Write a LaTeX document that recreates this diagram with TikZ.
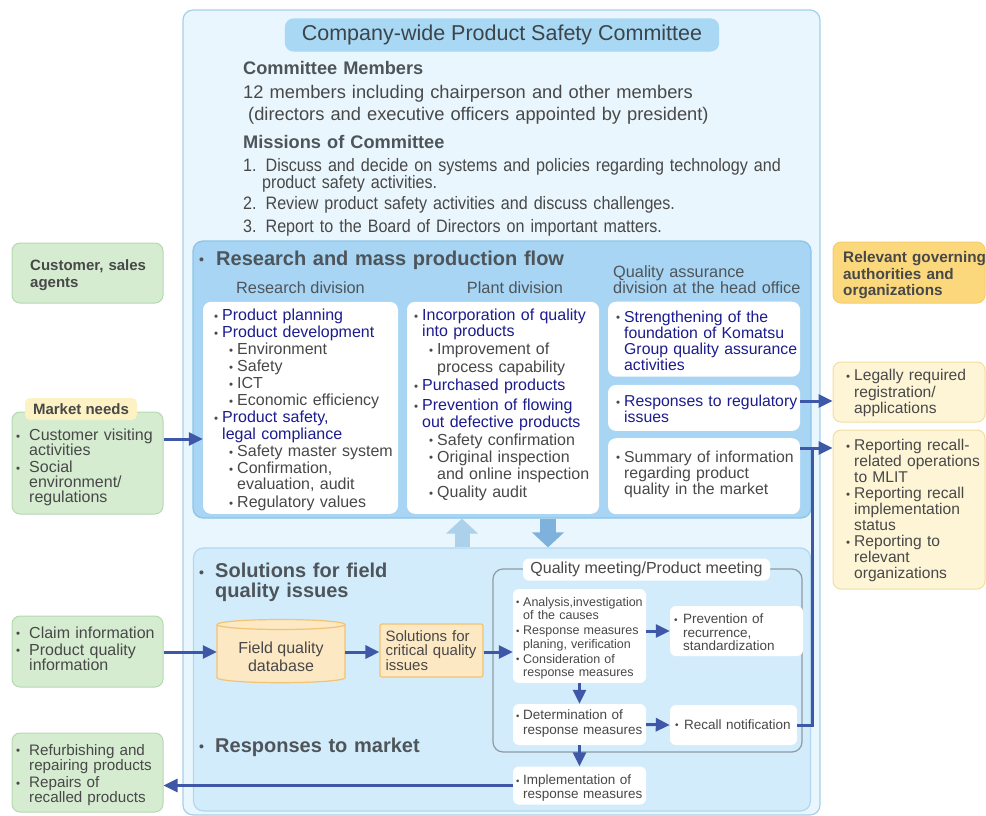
\documentclass[tikz,border=0pt]{standalone}
\usepackage{fontspec}
\setmainfont{Liberation Sans}
\newfontfamily\condfont[FakeStretch=0.895]{Liberation Sans}
\usepackage{xcolor}
\usepackage{tikz}
\usetikzlibrary{arrows.meta}

\definecolor{outerfill}{HTML}{EAF6FD}
\definecolor{outerline}{HTML}{A4D0EB}
\definecolor{titlefill}{HTML}{A9D8F4}
\definecolor{titlegray}{HTML}{3C4449}
\definecolor{massfill}{HTML}{A7D5F3}
\definecolor{massline}{HTML}{8CC4EA}
\definecolor{lowfill}{HTML}{D3ECFB}
\definecolor{lowline}{HTML}{B2D7EE}
\definecolor{navy}{HTML}{1C1C8E}
\definecolor{txtgray}{HTML}{484848}
\definecolor{headgray}{HTML}{4E555A}
\definecolor{arrowblue}{HTML}{3E57A7}
\definecolor{greenfill}{HTML}{D5ECD1}
\definecolor{greenline}{HTML}{B5D9AF}
\definecolor{govfill}{HTML}{FBD87C}
\definecolor{govline}{HTML}{F4CD6C}
\definecolor{paleyellow}{HTML}{FDF5D6}
\definecolor{paleline}{HTML}{F1DE9F}
\definecolor{tabfill}{HTML}{FCF2C4}
\definecolor{dbfill}{HTML}{FDE8C4}
\definecolor{dbline}{HTML}{F2C374}
\definecolor{meetline}{HTML}{8E9BA4}
\definecolor{uparrow}{HTML}{ABD1EB}
\definecolor{downarrow}{HTML}{7EB1DC}

\newcommand{\fsz}[2]{\fontsize{#1}{#2}\selectfont}
\newcommand{\blu}[1]{\textcolor{navy}{#1}}
% bullets and hanging indents
\newcommand{\bul}[2]{\raisebox{#2}{\fontsize{#1}{#1}\selectfont •}}
\newcommand{\bdot}{\makebox[8pt][l]{\bul{11.5}{0.3pt}}}
\newcommand{\bsub}{\hspace*{15pt}\makebox[8pt][l]{\bul{11.5}{0.3pt}}}
\newcommand{\bcont}{\hspace*{8pt}}
\newcommand{\bsubc}{\hspace*{23pt}}
\newcommand{\gdot}{\makebox[14pt][l]{\hspace*{1pt}\bul{11.5}{0.3pt}}}
\newcommand{\gcont}{\hspace*{14pt}}
\newcommand{\mdot}{\makebox[7pt][l]{\bul{9.5}{0.2pt}}}
\newcommand{\mcont}{\hspace*{7pt}}
\newcommand{\ndot}{\makebox[10pt][l]{\hspace*{1pt}\bul{10}{0.2pt}}}
\newcommand{\ncont}{\hspace*{10pt}}
\newcommand{\hdot}{\bul{14}{0.5pt}}

\begin{document}
\begin{tikzpicture}
[
x=1pt, y=-1pt,
panel/.style={rectangle, rounded corners=10pt, line width=1.2pt, inner sep=0pt},
whitebox/.style={rectangle, rounded corners=8pt, fill=white, inner sep=0pt},
meetbox/.style={rectangle, rounded corners=6pt, fill=white, inner sep=0pt},
greenbox/.style={rectangle, rounded corners=8pt, fill=greenfill, draw=greenline, line width=1pt, inner sep=0pt},
yellowbox/.style={rectangle, rounded corners=8pt, fill=paleyellow, draw=paleline, line width=1pt, inner sep=0pt},
txt/.style={anchor=base west, inner sep=0pt, align=left, text width=#1, text=txtgray, font=\fsz{16}{17}},
txt/.default=200pt,
head/.style={anchor=base west, inner sep=0pt, align=left, text width=#1, text=headgray, font=\bfseries\fsz{20}{20}},
head/.default=400pt,
flow/.style={draw=arrowblue, line width=3pt, -{Triangle[length=14pt,width=13pt]}},
link/.style={draw=arrowblue, line width=3pt}
]
\useasboundingbox (0,0) rectangle (986,815);

%Panels
\node[panel, fill=outerfill, draw=outerline, minimum width=637pt, minimum height=805pt] (committee) at (501.5,412.5) {};
\node[panel, rounded corners=8pt, fill=titlefill, draw=titlefill, minimum width=433pt, minimum height=32pt, text=titlegray, font=\fsz{21.5}{24}] (title) at (502,35) {Company-wide Product Safety Committee};
\node[panel, fill=massfill, draw=massline, minimum width=618pt, minimum height=277pt] (mass) at (502,379.5) {};
\node[panel, fill=lowfill, draw=lowline, minimum width=617pt, minimum height=263pt] (field) at (502,679.5) {};

%Boxes
\node[whitebox, minimum width=195pt, minimum height=212pt] (resbox) at (300.5,407.8) {};
\node[whitebox, minimum width=192pt, minimum height=212pt] (plantbox) at (503,407.8) {};
\node[whitebox, minimum width=192pt, minimum height=75pt] (qaone) at (704,339.2) {};
\node[whitebox, minimum width=192pt, minimum height=46pt] (qatwo) at (704,407.9) {};
\node[whitebox, minimum width=192pt, minimum height=76pt] (qathree) at (704,476.2) {};

\node[greenbox, minimum width=151pt, minimum height=60pt] (cust) at (87.5,273) {};
\node[greenbox, minimum width=151pt, minimum height=102pt] (mkt) at (87.5,463) {};
\node[rectangle, rounded corners=5pt, fill=tabfill, minimum width=112pt, minimum height=22pt, inner sep=0pt, text=txtgray, font=\bfseries\fsz{15}{16}] (mkttab) at (81,409) {Market needs};
\node[greenbox, minimum width=151pt, minimum height=71pt] (claim) at (87.5,651.5) {};
\node[greenbox, minimum width=151pt, minimum height=79pt] (refurb) at (87.5,772.5) {};

\node[rectangle, rounded corners=8pt, fill=govfill, draw=govline, line width=1pt, minimum width=152pt, minimum height=61pt, inner sep=0pt] (gov) at (909,272.5) {};
\node[yellowbox, minimum width=152pt, minimum height=60pt] (legal) at (909,392) {};
\node[yellowbox, minimum width=152pt, minimum height=159pt] (recall) at (909,509.5) {};

%Meeting
\node[panel, draw=meetline, minimum width=309pt, minimum height=183pt] (meeting) at (647.5,660.5) {};
\node[meetbox, minimum width=247pt, minimum height=22pt, text=txtgray, font=\fsz{16}{17}] (meetlbl) at (646.5,569.5) {Quality meeting/Product meeting};
\node[meetbox, minimum width=133pt, minimum height=94pt] (mA) at (579.5,636) {};
\node[meetbox, minimum width=133pt, minimum height=50pt] (mB) at (736.5,631) {};
\node[meetbox, minimum width=133pt, minimum height=41pt] (mC) at (579.5,724.5) {};
\node[meetbox, minimum width=127pt, minimum height=40pt] (mD) at (733.5,725) {};
\node[meetbox, minimum width=133pt, minimum height=38pt] (mE) at (579.5,785.5) {};

%Database
\draw[fill=dbfill, draw=dbline, line width=1.2pt] (217,624.5) -- (217,677.7) arc[start angle=180, end angle=360, x radius=64pt, y radius=5pt] -- (345,624.5) arc[start angle=0, end angle=180, x radius=64pt, y radius=5pt] -- cycle;
\draw[draw=dbline, line width=1.2pt] (217,624.5) arc[start angle=180, end angle=360, x radius=64pt, y radius=5pt];
\node[inner sep=0pt, minimum width=128pt, minimum height=52pt, align=center, text=txtgray, font=\fsz{16}{17.7}] (db) at (281,657) {Field quality\\database};
\node[rectangle, rounded corners=2pt, fill=dbfill, draw=dbline, line width=1.2pt, minimum width=103pt, minimum height=53pt, inner sep=0pt, text width=92pt, align=left, text=txtgray, font=\fsz{15}{14.4}] (sol) at (431.5,650.5) {Solutions for\\critical quality\\issues};

%Committee text
\node[head=300pt, font=\bfseries\fsz{18.2}{20}] (cmhead) at (243,74.5) {Committee Members};
\node[txt=560pt, font=\fsz{18.3}{22}] (cmtext) at (243,98.5) {12 members including chairperson and other members\\\hspace*{5pt}(directors and executive officers appointed by president)};
\node[head=300pt, font=\bfseries\fsz{18.2}{20}] (mshead) at (243,148.5) {Missions of Committee};
\node[txt=560pt, font=\condfont\fsz{18}{17}] (mstext) at (243,171) {1. Discuss and decide on systems and policies regarding technology and\\\hspace*{19pt}product safety activities.\\[4pt]2. Review product safety activities and discuss challenges.\\[6pt]3. Report to the Board of Directors on important matters.};

%Flow text
\node[head] (masshead) at (199,265) {\makebox[17pt][l]{\hdot}Research and mass production flow};
\node[anchor=base, inner sep=0pt, text=headgray, font=\fsz{16.3}{17}] (reshead) at (300.5,293) {Research division};
\node[anchor=base, inner sep=0pt, text=headgray, font=\fsz{16.3}{17}] (planthead) at (515,293) {Plant division};
\node[txt=200pt, text=headgray, font=\fsz{16.3}{15.6}] (qahead) at (613,277.5) {Quality assurance\\division at the head office};

\node[txt=190pt] (restxt) at (214,320.5) {\bdot\blu{Product planning}\\
\bdot\blu{Product development}\\
\bsub Environment\\
\bsub Safety\\
\bsub ICT\\
\bsub Economic efficiency\\
\bdot\blu{Product safety,}\\
\bcont\blu{legal compliance}\\
\bsub Safety master system\\
\bsub Confirmation,\\[-1.5pt]
\bsubc evaluation, audit\\[1.5pt]
\bsub Regulatory values};
\node[txt=190pt] (planttxt) at (414,320.5) {\bdot\blu{Incorporation of quality}\\[-1pt]
\bcont\blu{into products}\\[1pt]
\bsub Improvement of\\[0.5pt]
\bsubc process capability\\[1.5pt]
\bdot\blu{Purchased products}\\[3pt]
\bdot\blu{Prevention of flowing}\\
\bcont\blu{out defective products}\\[0.5pt]
\bsub Safety confirmation\\
\bsub Original inspection\\
\bsubc and online inspection\\[1.5pt]
\bsub Quality audit};
\node[txt=190pt, font=\fsz{15.8}{16}] (qaonetxt) at (616,322) {\bdot\blu{Strengthening of the}\\
\bcont\blu{foundation of Komatsu}\\
\bcont\blu{Group quality assurance}\\
\bcont\blu{activities}};
\node[txt=190pt, font=\fsz{15.8}{14}] (qatwotxt) at (616,406.5) {\bdot\blu{Responses to regulatory}\\
\bcont\blu{issues}};
\node[txt=190pt, font=\fsz{15.8}{16}] (qathreetxt) at (616,462) {\bdot Summary of information\\
\bcont regarding product\\
\bcont quality in the market};

%Field text
\node[head] (fieldhead) at (199,577.7) {\makebox[16pt][l]{\hdot}Solutions for field\\\hspace*{16pt}quality issues};
\node[head] (markethead) at (199,752) {\makebox[16pt][l]{\hdot}Responses to market};
\node[txt=140pt, font=\fsz{12.5}{13.5}] (mAtxt) at (516,606) {\mdot Analysis,investigation\\
\mcont of the causes\\[1.5pt]
\mdot Response measures\\
\mcont planing, verification\\[1.5pt]
\mdot Consideration of\\
\mcont response measures};
\node[txt=140pt, font=\fsz{13.5}{13.7}] (mBtxt) at (673,623.3) {\ndot Prevention of\\
\ncont recurrence,\\
\ncont standardization};
\node[txt=140pt, font=\fsz{13.5}{15.5}] (mCtxt) at (516,719.3) {\mdot Determination of\\
\mcont response measures};
\node[txt=140pt, font=\fsz{13.5}{15.5}] (mDtxt) at (674,729) {\ndot Recall notification};
\node[txt=140pt, font=\fsz{13.5}{14}] (mEtxt) at (516,784.3) {\mdot Implementation of\\
\mcont response measures};

%Outside text
\node[txt=150pt, font=\bfseries\fsz{15}{16.7}] (custtxt) at (30,270.5) {Customer, sales\\agents};
\node[txt=150pt, font=\fsz{16}{15}] (mkttxt) at (15,440.5) {\gdot Customer visiting\\
\gcont activities\\[2pt]
\gdot Social\\
\gcont environment/\\
\gcont regulations};
\node[txt=150pt, font=\fsz{16}{15.5}] (claimtxt) at (15,638) {\gdot Claim information\\[1.5pt]
\gdot Product quality\\[-0.5pt]
\gcont information};
\node[txt=150pt, font=\fsz{15.2}{15}] (refurbtxt) at (15,755) {\gdot Refurbishing and\\
\gcont repairing products\\[2.5pt]
\gdot Repairs of\\
\gcont recalled products};
\node[txt=150pt, font=\bfseries\fsz{15.3}{16.5}] (govtxt) at (843,262.5) {Relevant governing\\authorities and\\organizations};
\node[txt=150pt, font=\fsz{15.6}{16.7}] (legaltxt) at (846,380.5) {\bdot Legally required\\
\bcont registration/\\
\bcont applications};
\node[txt=150pt, font=\fsz{15.6}{16}] (recalltxt) at (846,450.5) {\bdot Reporting recall-\\
\bcont related operations\\
\bcont to MLIT\\
\bdot Reporting recall\\
\bcont implementation\\
\bcont status\\
\bdot Reporting to\\
\bcont relevant\\
\bcont organizations};

%Lines
\coordinate (upx) at (462,0);
\coordinate (dnx) at (548,0);
\coordinate (mk) at (0,439);
\coordinate (fl) at (0,652);
\coordinate (lg) at (0,401);
\coordinate (jn) at (812,448);
\draw[line width=15pt, draw=uparrow, -{Triangle[length=15pt,width=31pt]}] (field.north -| upx) -- (mass.south -| upx);
\draw[line width=16pt, draw=downarrow, -{Triangle[length=15pt,width=31pt]}] (mass.south -| dnx) -- (field.north -| dnx);
\draw[flow] (mkt.east |- mk) -- (resbox.west |- mk);
\draw[flow] (qatwo.east |- lg) -- (legal.west |- lg);
\draw[link] (mD.east) -| (jn);
\draw[flow] (qathree.east |- jn) -- (recall.west |- jn);
\draw[flow] (claim.east |- fl) -- (db.west |- fl);
\draw[flow] (db.east |- fl) -- (sol.west |- fl);
\draw[flow] (sol.east |- fl) -- (mA.west |- fl);
\draw[flow] (mA.east |- mB.west) -- (mB.west);
\draw[flow] (mA.south) -- (mC.north);
\draw[flow] (mC.east) -- (mD.west);
\draw[flow] (mC.south) -- (mE.north);
\draw[flow] (mE.west) -- (refurb.east |- mE.west);
\end{tikzpicture}
\end{document}
